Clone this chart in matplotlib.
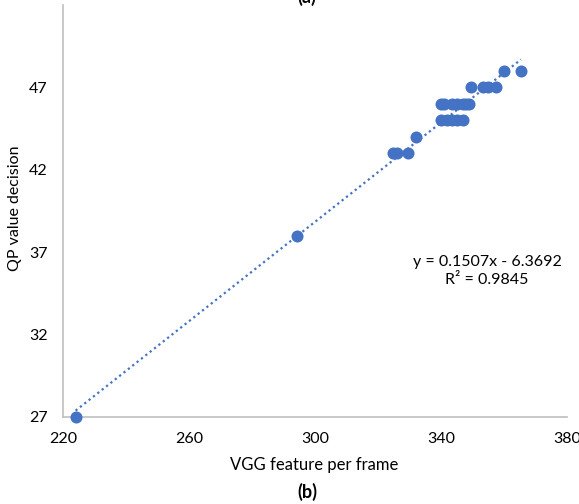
import matplotlib
matplotlib.use("Agg")
import matplotlib.pyplot as plt
import numpy as np

plt.rcParams['font.family'] = ['Lato', 'DejaVu Sans']

# data (VGG feature per frame, QP value decision)
vgg = [224, 294.3, 324.9, 326, 329.6, 332,
       340, 341.8, 343.4, 345, 346.9,
       340, 341, 343.5, 345, 347, 348, 349,
       349.5, 353.4, 355, 357.5,
       360, 365.4]
qp = [27, 38, 43, 43, 43, 44,
      45, 45, 45, 45, 45,
      46, 46, 46, 46, 46, 46, 46,
      47, 47, 47, 47,
      48, 48]
slope = 0.1507
intercept = -6.3692
eq_text = "y = 0.1507x - 6.3692\nR² = 0.9845"
x_ticks = [220, 260, 300, 340, 380]
y_ticks = [27, 32, 37, 42, 47]

blue = '#4472C4'
W, H = 579, 504
fig = plt.figure(figsize=(W/100, H/100), dpi=100)
ax = fig.add_axes([63/W, 1-417/H, (567-63)/W, (417-5)/H])

xs = np.array([min(vgg), max(vgg)])
ax.plot(xs, slope*xs + intercept, linestyle=(0, (1, 1.5)), color=blue, lw=1.6, zorder=2)
ax.scatter(vgg, qp, s=75, color=blue, zorder=3, linewidths=0, clip_on=False)

ax.set_xlim(220, 380)
ax.set_ylim(27, 52)
ax.set_xticks(x_ticks)
ax.set_yticks(y_ticks)
ax.tick_params(axis='both', length=0, labelsize=11.5, colors='#000000')
ax.tick_params(axis='y', pad=11)
ax.tick_params(axis='x', pad=11)
for s in ['top', 'right']:
    ax.spines[s].set_visible(False)
for s in ['left', 'bottom']:
    ax.spines[s].set_color('#BFBFBF')
    ax.spines[s].set_linewidth(1.2)

ax.set_xlabel("VGG feature per frame", fontsize=12)
ax.set_ylabel("QP value decision", fontsize=11.5)
ax.xaxis.set_label_coords((314-63)/(567-63), -(465-417)/(417-5))
ax.yaxis.set_label_coords((15-63)/(567-63), (417-208)/(417-5))
ax.xaxis.label.set_va('center')
ax.yaxis.label.set_va('center')

fig.text(487/W, 1-271/H, eq_text, ha='center', va='center', fontsize=11.5, linespacing=1.35)
fig.text(307/W, 1-492/H, "(b)", ha='center', va='center', fontsize=13, fontweight='bold')
fig.text(307/W, 1-(-3)/H, "(a)", ha='center', va='center', fontsize=13, fontweight='bold')

fig.savefig("out.png", dpi=100)
